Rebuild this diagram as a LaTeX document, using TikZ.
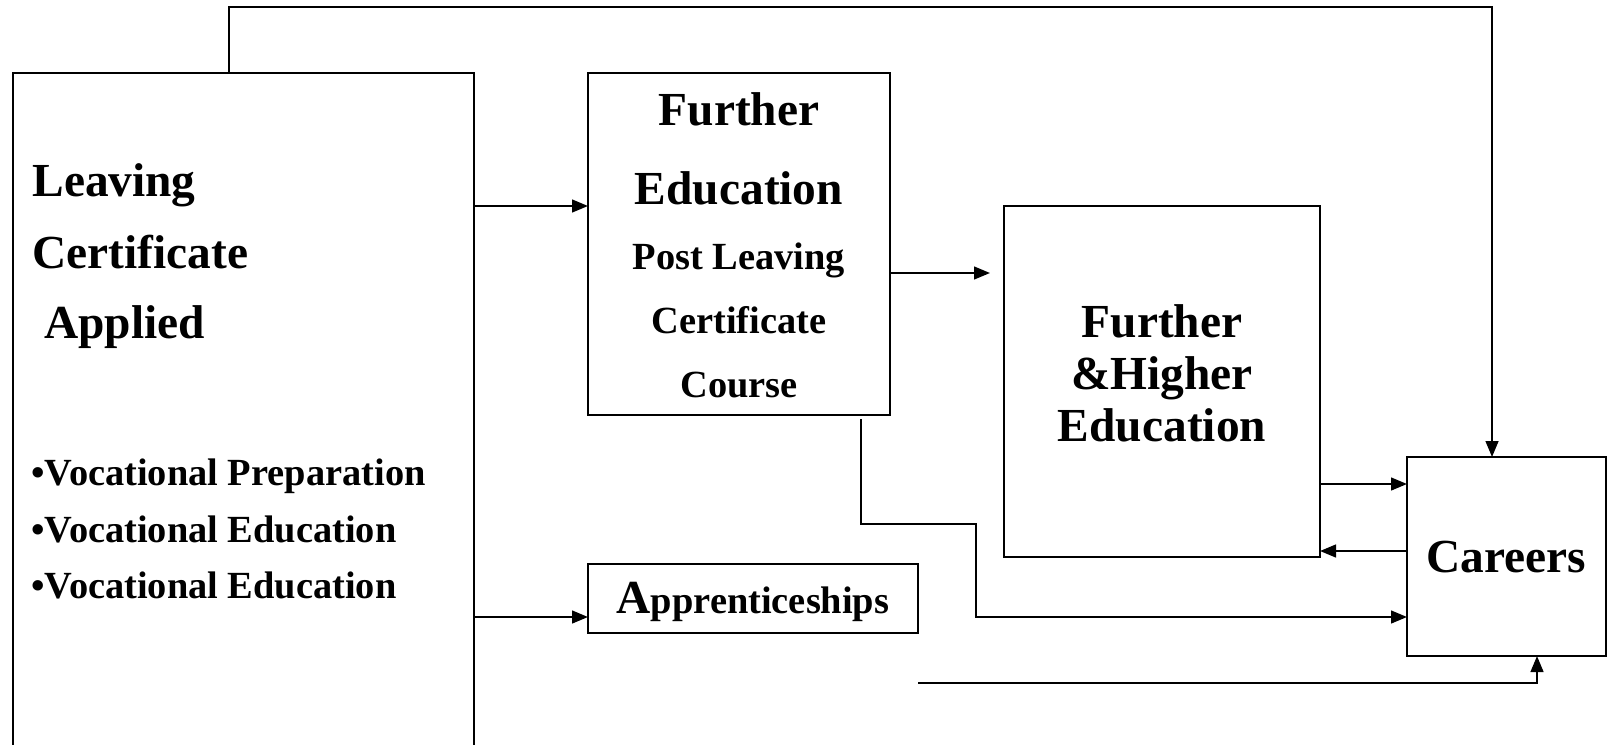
\documentclass[tikz,border=0pt]{standalone}
\usepackage{fontspec}
\setmainfont{Liberation Serif}
\usetikzlibrary{arrows.meta,fit}
\begin{document}
\begin{tikzpicture}[x=0.5pt,y=-0.5pt,
  box/.style={draw,line width=1pt,inner sep=0pt,outer sep=0pt},
  conn/.style={line width=1pt},
  arr/.style={conn,-{Triangle[length=8pt,width=6.4pt]}},
  big/.style={font=\fontsize{23.7}{27}\selectfont\bfseries,inner sep=0pt},
  med/.style={font=\fontsize{19.2}{23}\selectfont\bfseries,inner sep=0pt}]
\useasboundingbox (0,0) rectangle (1615,744);
\clip (0,0) rectangle (1615,744);
% boxes
\node[box,fit={(13,73) (474,770)}] (lca) {};
\node[box,fit={(588,73) (890,415)}] (fe) {};
\node[box,fit={(1004,206) (1320,557)}] (fhe) {};
\node[box,fit={(1407,457) (1606,656)}] (car) {};
\node[box,fit={(588,564) (918,633)}] (app) {};
% texts: Leaving Certificate Applied
\node[big,anchor=base west] (l1) at (32,196) {Leaving};
\node[big,anchor=base west] (l2) at (32,268) {Certificate};
\node[big,anchor=base west] (l3) at (32,338) {\ Applied};
\node[med,anchor=base west] (b1) at (31,485) {•Vocational Preparation};
\node[med,anchor=base west] (b2) at (31,542) {•Vocational Education};
\node[med,anchor=base west] (b3) at (31,598) {•Vocational Education};
% Further Education
\node[big,anchor=base] (f1) at (739,125) {Further};
\node[big,anchor=base] (f2) at (739,204) {Education};
\node[med,anchor=base] (f3) at (739,269) {Post Leaving};
\node[med,anchor=base] (f4) at (739,333) {Certificate};
\node[med,anchor=base] (f5) at (739,397) {Course};
% Further & Higher Education
\node[big,anchor=base] (h1) at (1162,337) {Further};
\node[big,anchor=base] (h2) at (1162,389) {\&Higher};
\node[big,anchor=base] (h3) at (1162,441) {Education};
% Careers
\node[big,anchor=base] (c1) at (1506,572) {Careers};
% Apprenticeships
\node[med,anchor=base] (a1) at (753,613) {{\fontsize{23.7}{27}\selectfont A}pprenticeships};
% connectors
\coordinate (t1) at (229,7);
\coordinate (t2) at (1492,7);
\draw[arr] (t1 |- lca.north) -- (t1) -- (t2) -- (t2 |- car.north);
\draw[arr] (lca.east |- 0,206) -- (fe.west |- 0,206);
\coordinate (fe2) at (990,273);
\draw[arr] (fe.east |- fe2) -- (fe2);
\draw[arr] (fhe.east |- 0,484) -- (car.west |- 0,484);
\draw[arr] (car.west |- 0,551) -- (fhe.east |- 0,551);
\coordinate (p1) at (861,419);
\coordinate (p2) at (861,524);
\coordinate (p3) at (976,524);
\coordinate (p4) at (976,617);
\draw[arr] (p1) -- (p2) -- (p3) -- (p4) -- (car.west |- p4);
\draw[arr] (lca.east |- 0,617) -- (app.west |- 0,617);
\coordinate (q1) at (1537,683);
\draw[arr] (app.east |- q1) -- (q1) -- (q1 |- car.south);
\end{tikzpicture}
\end{document}
